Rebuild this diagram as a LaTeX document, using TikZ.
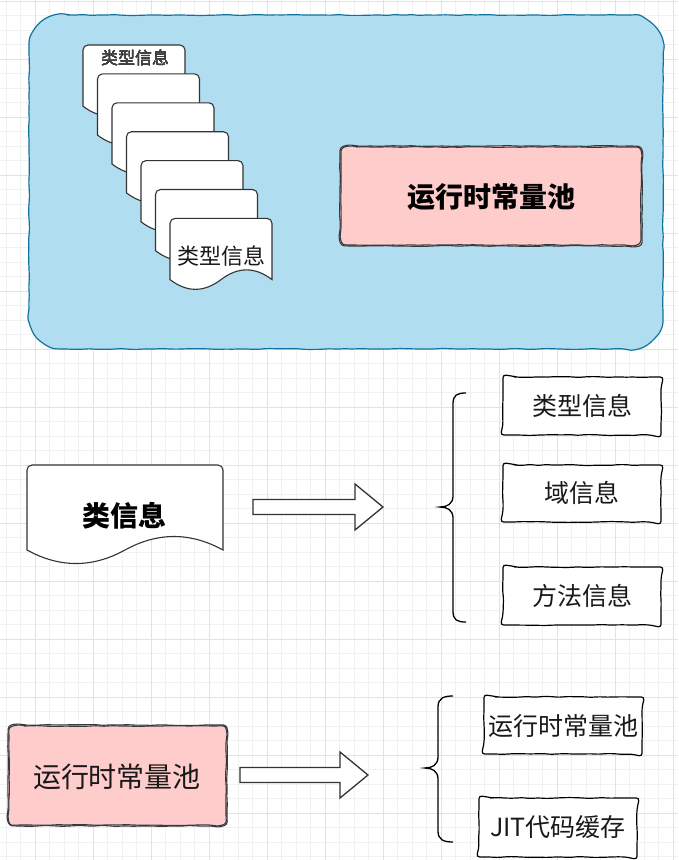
\documentclass[tikz,border=0pt]{standalone}
\usepackage{fontspec}
\setmainfont{Liberation Sans}
\newfontfamily\cjk{Noto Sans CJK SC}
\usetikzlibrary{decorations.pathmorphing}

\definecolor{poolblue}{HTML}{B1DDF0}
\definecolor{poolline}{HTML}{10739E}
\definecolor{constpink}{HTML}{FFCCCC}
\definecolor{pinkline}{HTML}{36393D}
\definecolor{docgray}{HTML}{333333}
\definecolor{gridmajor}{HTML}{E2E2E2}
\definecolor{gridminor}{HTML}{F1F1F1}

% rounded box drawn as one path, so that the sketch decoration follows the corners
\newcommand{\sketchbox}[6]{% style, x1, y1, x2, y2, radius
  \draw[#1] ({#2+#6},{#3}) -- ({#4-#6},{#3})
    .. controls ({#4-0.45*#6},{#3}) and ({#4},{#3+0.45*#6}) .. ({#4},{#3+#6})
    -- ({#4},{#5-#6})
    .. controls ({#4},{#5-0.45*#6}) and ({#4-0.45*#6},{#5}) .. ({#4-#6},{#5})
    -- ({#2+#6},{#5})
    .. controls ({#2+0.45*#6},{#5}) and ({#2},{#5-0.45*#6}) .. ({#2},{#5-#6})
    -- ({#2},{#3+#6})
    .. controls ({#2},{#3+0.45*#6}) and ({#2+0.45*#6},{#3}) .. cycle;}

% document sheet with a wavy lower edge
\newcommand{\docshape}[4]{% x, y, w, h
  \draw[docline] ({#1},{#2+0.85*#4}) -- ({#1},{#2+5})
    .. controls ({#1},{#2+2.25}) and ({#1+2.25},{#2}) .. ({#1+5},{#2})
    -- ({#1+#3-5},{#2})
    .. controls ({#1+#3-2.25},{#2}) and ({#1+#3},{#2+2.25}) .. ({#1+#3},{#2+5})
    -- ({#1+#3},{#2+0.85*#4})
    .. controls ({#1+5*#3/6},{#2+0.67*#4}) and ({#1+2*#3/3},{#2+0.67*#4}) .. ({#1+#3/2},{#2+0.85*#4})
    .. controls ({#1+#3/3},{#2+1.03*#4}) and ({#1+#3/6},{#2+1.03*#4}) .. cycle;}

\begin{document}
\begin{tikzpicture}[
  x=1pt, y=-1pt,
  sketchline/.style={decorate, decoration={random steps, segment length=8pt, amplitude=0.5pt}, rounded corners=3pt},
  bluebox/.style={sketchline, draw=poolline, fill=poolblue, line width=1.2pt},
  pinkbox/.style={sketchline, draw=pinkline, line width=1.1pt},
  itembox/.style={sketchline, draw=black, fill=white, line width=1.2pt},
  docline/.style={draw=docgray, fill=white, line width=1.1pt},
  hollow/.style={draw=docgray, fill=white, line width=1.3pt, line join=miter},
  brace/.style={draw=black, line width=1.3pt},
  lbl/.style={inner sep=0, text=black!90, font=\cjk\fontsize{25}{30}\selectfont},
  boldlbl/.style={inner sep=0, text=black, font=\cjk\bfseries\fontsize{28}{32}\selectfont}
]
\useasboundingbox (0,0) rectangle (678,860);
\fill[white] (0,0) rectangle (678,860);

% grid
\foreach \gx in {6,20.5,...,678} \draw[gridminor, line width=0.6pt] (\gx,0) -- (\gx,860);
\foreach \gy in {1,15.5,...,860} \draw[gridminor, line width=0.6pt] (0,\gy) -- (678,\gy);
\foreach \gx in {35,93,...,678} \draw[gridmajor, line width=0.8pt] (\gx,0) -- (\gx,860);
\foreach \gy in {1,59,...,860} \draw[gridmajor, line width=0.8pt] (0,\gy) -- (678,\gy);

% method area
\sketchbox{bluebox}{29}{15}{663}{349}{35}
\foreach \i in {0,...,6} \docshape{83+14.5*\i}{45+28.9*\i}{102}{72}
\node[lbl, text=black!75, font=\cjk\fontsize{17}{20}\selectfont] (typefirst) at (135,58) {类型信息};
\node[lbl, font=\cjk\fontsize{22}{26}\selectfont] (typelast) at (221,256) {类型信息};
\sketchbox{pinkbox, fill=constpink}{340}{146}{642}{246}{12}
\sketchbox{pinkbox}{341}{147}{641}{245}{12}
\node[boldlbl] (poolhead) at (491,197) {运行时常量池};

% class information
\docshape{27}{465}{196}{100}
\node[boldlbl] (classinfo) at (124,516) {类信息};
\draw[hollow] (253,499.5) -- (355,499.5) -- (355,484) -- (383,507) -- (355,530) -- (355,514.5) -- (253,514.5) -- cycle;
\draw[brace] (466,393) .. controls (457,393) and (453,395) .. (453,404) -- (453,496)
  .. controls (453,504) and (447,507) .. (440,507) .. controls (447,507) and (453,510) .. (453,518)
  -- (453,611) .. controls (453,620) and (457,622) .. (466,622);
\sketchbox{itembox}{503}{377}{661}{435}{8}
\node[lbl] (typeinfo) at (582,406) {类型信息};
\sketchbox{itembox}{503}{465}{661}{522}{8}
\node[lbl] (fieldinfo) at (582,493) {域信息};
\sketchbox{itembox}{503}{567}{661}{625}{8}
\node[lbl] (methodinfo) at (582,596) {方法信息};

% runtime constant pool
\sketchbox{pinkbox, fill=constpink}{8}{725}{227}{826}{12}
\sketchbox{pinkbox}{9}{726}{226}{825}{12}
\node[lbl, font=\cjk\fontsize{28}{32}\selectfont] (poolmain) at (117,777) {运行时常量池};
\draw[hollow] (240,767.5) -- (340,767.5) -- (340,752) -- (368,775) -- (340,798) -- (340,782.5) -- (240,782.5) -- cycle;
\draw[brace] (453,696) .. controls (444,696) and (438,698) .. (438,707) -- (438,757)
  .. controls (438,765) and (432,768) .. (425,768) .. controls (432,768) and (438,771) .. (438,779)
  -- (438,831) .. controls (438,840) and (444,842) .. (453,842);
\sketchbox{itembox}{484}{697}{642}{754}{8}
\node[lbl] (poolitem) at (563,726) {运行时常量池};
\sketchbox{itembox}{479}{798}{637}{857}{8}
\node[lbl] (jitcache) at (558,827) {JIT代码缓存};
\end{tikzpicture}
\end{document}
